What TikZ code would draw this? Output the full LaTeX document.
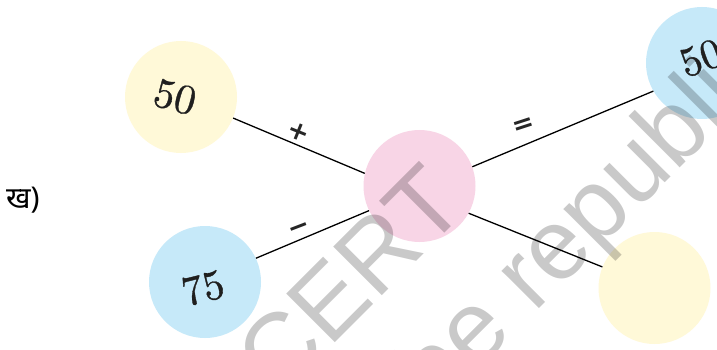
\documentclass[tikz,border=0pt]{standalone}
\usepackage{fontspec}
\newfontfamily\wmfont{Liberation Sans}
\newfontfamily\devfont[Script=Devanagari]{Noto Sans}
\newfontfamily\opfont{DejaVu Sans}
\newfontfamily\numfont[FakeBold=0.8]{lmroman10-regular.otf}
\definecolor{cyel}{RGB}{255,249,216}
\definecolor{cblu}{RGB}{198,233,249}
\definecolor{cpnk}{RGB}{248,213,230}
\begin{document}
\begin{tikzpicture}[x=1pt,y=-1pt,
  bubble/.style={circle,minimum size=112pt,inner sep=0pt,draw=none},
  num/.style={font=\numfont\fontsize{42}{46}\selectfont,inner sep=0pt,text=black!88},
  op/.style={font=\opfont\bfseries\fontsize{26}{30}\selectfont,inner sep=0pt,text=black!85},
  link/.style={line width=1.3pt,black},
  wm/.style={font=\wmfont\fontsize{100}{110}\selectfont,text=black,text opacity=0.21,inner sep=0pt}]
\useasboundingbox (0,0) rectangle (717,350);
\fill[white] (0,0) rectangle (717,350);
\node[bubble,fill=cyel] (a) at (181,97) {};
\node[bubble,fill=cblu] (b) at (205,282) {};
\node[bubble,fill=cpnk] (c) at (419.5,186) {};
\node[bubble,fill=cblu] (d) at (702,63) {};
\node[bubble,fill=cyel] (e) at (654.5,288) {};
\draw[link] (a.-22) -- (c.167);
\draw[link] (b.25) -- (c.206);
\draw[link] (c.20) -- (d.210);
\draw[link] (c.-29) -- (e.158);
\node[op,rotate=-22] (plus) at (299,132) {+};
\node[op,rotate=21] (minus) at (300,230) {−};
\node[op,rotate=18] (eq) at (524,126) {=};
\node[num,rotate=-15] (na) at (175,97) {50};
\node[num,rotate=14] (nb) at (203,288) {75};
\node[num,rotate=20] (nd) at (701,58) {50};
\node[anchor=west,inner sep=0pt,font=\devfont\fontsize{30}{34}\selectfont] (kh) at (6,200) {ख)};
\begin{scope}
\clip (0,0) rectangle (717,350);
\node[wm,rotate=45,anchor=base east] (wm1) at (470,208) {NCERT};
\node[wm,rotate=45,anchor=base west] (wm2) at (534,314) {\llap{not to be }republished};
\end{scope}
\end{tikzpicture}
\end{document}
